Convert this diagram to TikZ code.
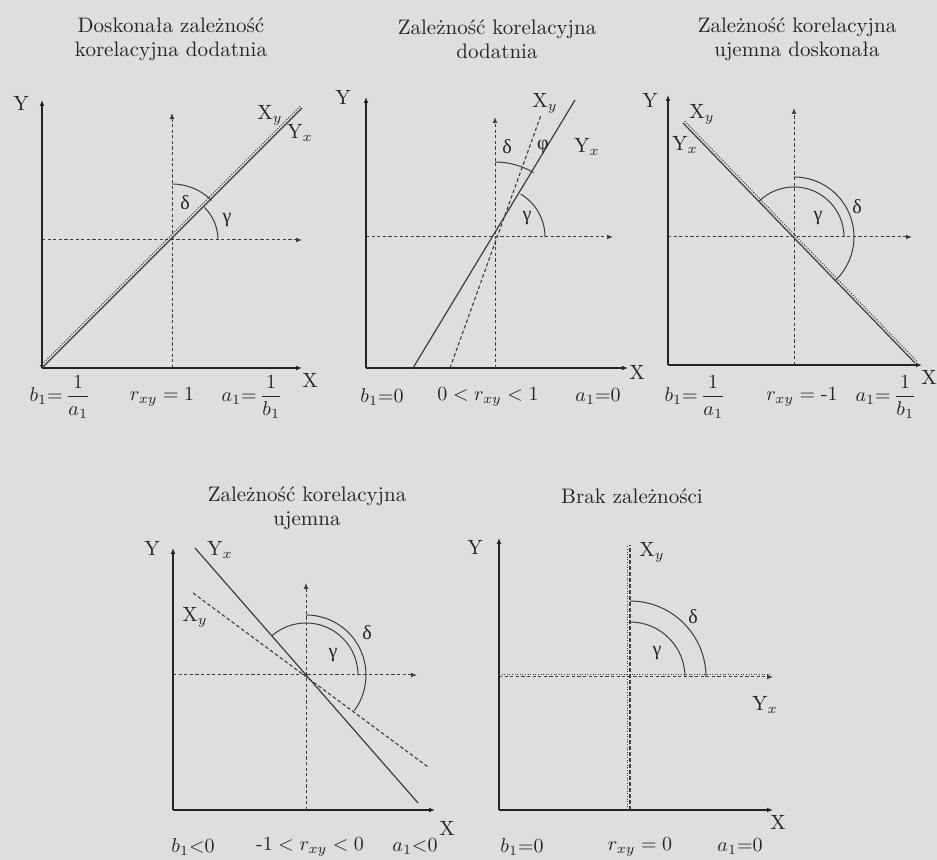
\documentclass[tikz,border=0pt]{standalone}
\usepackage{fontspec}
\usepackage{amsmath}
\usetikzlibrary{arrows.meta}
\newfontfamily\grkfont{Liberation Serif}
\definecolor{pageBg}{RGB}{222,222,220}
\definecolor{inkDark}{RGB}{35,35,35}
\definecolor{inkLine}{RGB}{60,60,60}
\tikzset{
  axisline/.style={draw=inkDark, line width=0.7pt, -{Latex[length=3pt,width=2.4pt]}},
  guide/.style={draw=inkLine, line width=0.5pt, dash pattern=on 1.6pt off 1.2pt, -{Latex[length=3pt,width=2.4pt]}},
  regline/.style={draw=inkLine, line width=0.6pt},
  regdash/.style={draw=inkLine, line width=0.55pt, dash pattern=on 1.8pt off 1.2pt},
  dotline/.style={draw=inkLine, line width=0.55pt, dash pattern=on 0.5pt off 0.8pt},
  anglearc/.style={draw=inkLine, line width=0.5pt},
  lbl/.style={text=inkDark, inner sep=0pt, font=\fontsize{10.3}{12}\selectfont},
  grk/.style={text=inkDark, inner sep=0pt, font=\grkfont},
  ttl/.style={text=inkDark, inner sep=0pt, align=center, font=\fontsize{10.5}{12}\selectfont},
}

\begin{document}
\begin{tikzpicture}[x=0.5pt,y=0.5pt]
  \fill[pageBg] (0,0) rectangle (937,860);
  \useasboundingbox (0,0) rectangle (937,860);

  % Doskonala dodatnia
  \coordinate (o1) at (42,492);
  \coordinate (c1) at (172,620);
  \coordinate (ln1b) at (302,752);
  \draw[axisline] (o1) -- (42,760);
  \draw[axisline] (o1) -- (302,492);
  \draw[guide] (c1 |- o1) -- (172,747);
  \draw[guide] (o1 |- c1) -- (302,620);
  \draw[regline] (o1) -- (ln1b);
  \draw[dotline] ([shift={(-0.9pt,0.9pt)}]o1) -- ([shift={(-0.9pt,0.9pt)}]ln1b);
  \draw[anglearc] (c1) ++(0:46) arc[start angle=0, end angle=45, radius=46];
  \draw[anglearc] (c1) ++(45:56) arc[start angle=45, end angle=90, radius=56];
  \node[ttl] (ttl1) at (171,821) {Doskonała zależność\\korelacyjna dodatnia};
  \node[lbl] (ylab1) at (21,757) {Y};
  \node[lbl] (xlab1) at (310,480) {X};
  \node[lbl] (xy1) at (270,745) {X$_y$};
  \node[lbl] (yx1) at (300,727) {Y$_x$};
  \node[grk] (del1) at (185,657) {δ};
  \node[grk] (gam1) at (227,640) {γ};
  \node[lbl] (b1) at (60,463) {$b_1{=}\,\dfrac{1}{a_1}$};
  \node[lbl] (r1) at (162,463) {$r_{xy}=1$};
  \node[lbl] (a1) at (252,463) {$a_1{=}\,\dfrac{1}{b_1}$};

  % dodatnia
  \coordinate (o2) at (366,492);
  \coordinate (c2) at (495,623);
  \draw[axisline] (o2) -- (366,763);
  \draw[axisline] (o2) -- (628,492);
  \draw[guide] (c2 |- o2) -- (495,743);
  \draw[guide] (o2 |- c2) -- (613,623);
  \draw[regline] (413,492) -- (575,760);
  \draw[regdash] (450,492) -- (541,745);
  \draw[anglearc] (c2) ++(0:50) arc[start angle=0, end angle=59, radius=50];
  \draw[anglearc] (c2) ++(59:75) arc[start angle=59, end angle=90, radius=75];
  \node[ttl] (ttl2) at (497,821) {Zależność korelacyjna\\dodatnia};
  \node[lbl] (ylab2) at (343,763) {Y};
  \node[lbl] (xlab2) at (637,488) {X};
  \node[lbl] (xy2) at (545,757) {X$_y$};
  \node[lbl] (yx2) at (587,713) {Y$_x$};
  \node[grk] (del2) at (507,713) {δ};
  \node[grk] (phi2) at (543,713) {φ};
  \node[grk] (gam2) at (527,642) {γ};
  \node[lbl] (b2) at (382,463) {$b_1{=}0$};
  \node[lbl] (r2) at (488,463) {$0<r_{xy}<1$};
  \node[lbl] (a2) at (598,463) {$a_1{=}0$};

  % ujemna doskonala
  \coordinate (o3) at (668,495);
  \coordinate (c3) at (794,623);
  \coordinate (ln3a) at (683,737);
  \coordinate (ln3b) at (915,497);
  \draw[axisline] (o3) -- (668,765);
  \draw[axisline] (o3) -- (922,495);
  \draw[guide] (c3 |- o3) -- (794,752);
  \draw[guide] (o3 |- c3) -- (912,623);
  \draw[regline] (ln3a) -- (ln3b);
  \draw[dotline] ([shift={(0.9pt,0.9pt)}]ln3a) -- ([shift={(0.9pt,0.9pt)}]ln3b);
  \draw[anglearc] (c3) ++(0:50) arc[start angle=0, end angle=134, radius=50];
  \draw[anglearc] (c3) ++(-46:60) arc[start angle=-46, end angle=90, radius=60];
  \node[ttl] (ttl3) at (797,821) {Zależność korelacyjna\\ujemna doskonała};
  \node[lbl] (ylab3) at (650,760) {Y};
  \node[lbl] (xlab3) at (929,483) {X};
  \node[lbl] (xy3) at (702,746) {X$_y$};
  \node[lbl] (yx3) at (685,715) {Y$_x$};
  \node[grk] (gam3) at (818,642) {γ};
  \node[grk] (del3) at (857,653) {δ};
  \node[lbl] (b3) at (695,463) {$b_1{=}\,\dfrac{1}{a_1}$};
  \node[lbl] (r3) at (802,463) {$r_{xy}=\text{-}1$};
  \node[lbl] (a3) at (886,463) {$a_1{=}\,\dfrac{1}{b_1}$};

  % ujemna
  \coordinate (o4) at (173,50);
  \coordinate (c4) at (306,185);
  \draw[axisline] (o4) -- (173,312);
  \draw[axisline] (o4) -- (435,50);
  \draw[guide] (c4 |- o4) -- (306,277);
  \draw[guide] (o4 |- c4) -- (417,185);
  \draw[regline] (195,312) -- (418,57);
  \draw[regdash] (193,267) -- (428,93);
  \draw[anglearc] (c4) ++(0:52) arc[start angle=0, end angle=131, radius=52];
  \draw[anglearc] (c4) ++(-36.5:60) arc[start angle=-36.5, end angle=90, radius=60];
  \node[ttl] (ttl4) at (307,352) {Zależność korelacyjna\\ujemna};
  \node[lbl] (ylab4) at (152,312) {Y};
  \node[lbl] (xlab4) at (447,32) {X};
  \node[lbl] (yx4) at (220,310) {Y$_x$};
  \node[lbl] (xy4) at (195,243) {X$_y$};
  \node[grk] (gam4) at (333,205) {γ};
  \node[grk] (del4) at (367,227) {δ};
  \node[lbl] (b4) at (193,13) {$b_1{<}0$};
  \node[lbl] (r4) at (310,13) {$\text{-}1<r_{xy}<0$};
  \node[lbl] (a4) at (415,13) {$a_1{<}0$};

  % brak zaleznosci
  \coordinate (o5) at (499,50);
  \coordinate (c5) at (630,183);
  \coordinate (vt5) at (630,315);
  \draw[axisline] (o5) -- (499,322);
  \draw[axisline] (o5) -- (773,50);
  \draw[guide] (o5 |- c5) -- (773,183);
  \draw[dotline] ([yshift=1.1pt]o5 |- c5) -- ([yshift=1.1pt]770,183);
  \draw[regdash] (c5 |- o5) -- (vt5);
  \draw[dotline] ([xshift=-1.1pt]c5 |- o5) -- ([xshift=-1.1pt]vt5);
  \draw[anglearc] (c5) ++(0:55) arc[start angle=0, end angle=90, radius=55];
  \draw[anglearc] (c5) ++(0:76) arc[start angle=0, end angle=90, radius=76];
  \node[ttl] (ttl5) at (632,364) {Brak zależności};
  \node[lbl] (ylab5) at (475,313) {Y};
  \node[lbl] (xlab5) at (778,38) {X};
  \node[lbl] (xy5) at (652,308) {X$_y$};
  \node[lbl] (yx5) at (765,155) {Y$_x$};
  \node[grk] (gam5) at (657,207) {γ};
  \node[grk] (del5) at (693,243) {δ};
  \node[lbl] (b5) at (522,13) {$b_1{=}0$};
  \node[lbl] (r5) at (640,13) {$r_{xy}=0$};
  \node[lbl] (a5) at (740,13) {$a_1{=}0$};
\end{tikzpicture}
\end{document}
